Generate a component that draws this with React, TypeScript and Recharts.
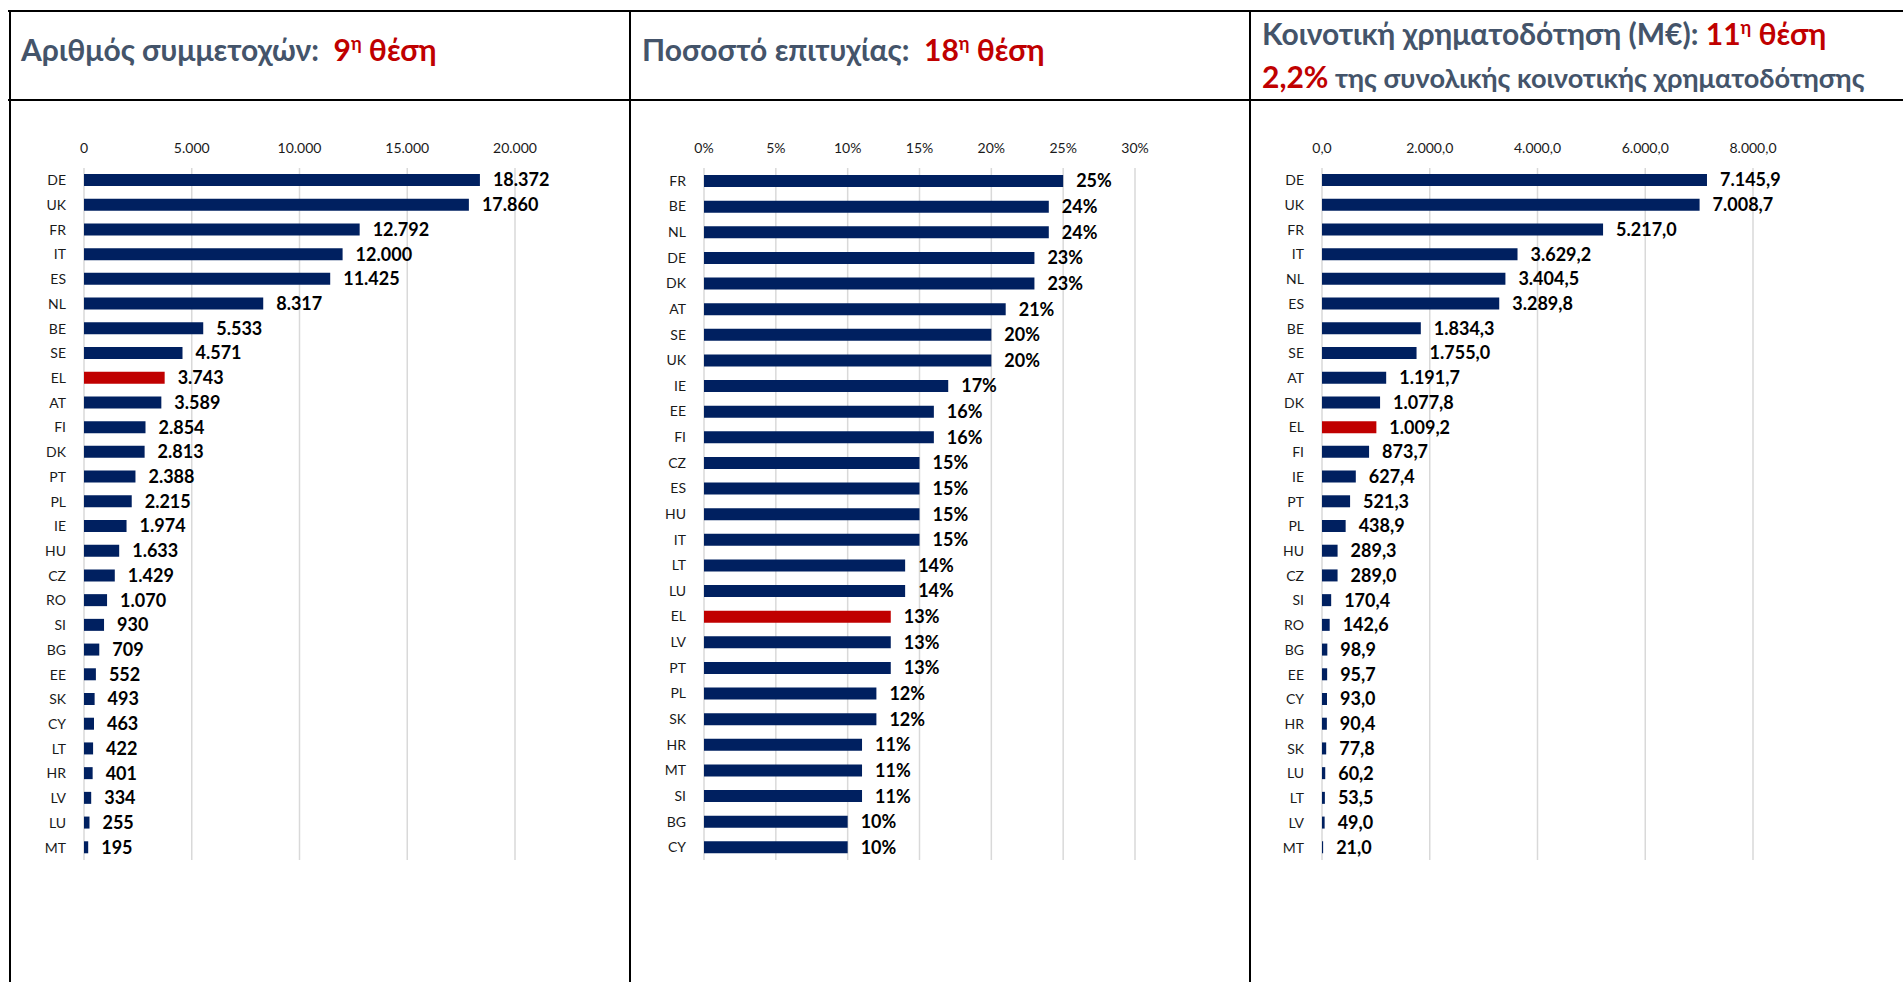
import React from "react";
import { BarChart, Bar, XAxis, YAxis, CartesianGrid, Cell, LabelList } from "recharts";

const FONT = "Lato, 'Open Sans', sans-serif";
const NAVY = "#002060";
const RED = "#c00000";
const SLATE = "#44546a";
const GRID = "#d9d9d9";
const HIGHLIGHT = "EL";

// participations (count)
const partCountries = [
  "DE", "UK", "FR", "IT", "ES", "NL", "BE", "SE", "EL", "AT", "FI", "DK", "PT", "PL",
  "IE", "HU", "CZ", "RO", "SI", "BG", "EE", "SK", "CY", "LT", "HR", "LV", "LU", "MT",
];
const partValues = [
  18372, 17860, 12792, 12000, 11425, 8317, 5533, 4571, 3743, 3589, 2854, 2813, 2388, 2215,
  1974, 1633, 1429, 1070, 930, 709, 552, 493, 463, 422, 401, 334, 255, 195,
];
const partTicks = [0, 5000, 10000, 15000, 20000];

// success rate (%)
const rateCountries = [
  "FR", "BE", "NL", "DE", "DK", "AT", "SE", "UK", "IE", "EE", "FI", "CZ", "ES", "HU",
  "IT", "LT", "LU", "EL", "LV", "PT", "PL", "SK", "HR", "MT", "SI", "BG", "CY",
];
const rateValues = [
  25, 24, 24, 23, 23, 21, 20, 20, 17, 16, 16, 15, 15, 15,
  15, 14, 14, 13, 13, 13, 12, 12, 11, 11, 11, 10, 10,
];
const rateTicks = [0, 5, 10, 15, 20, 25, 30];

// EU funding (M€)
const fundCountries = [
  "DE", "UK", "FR", "IT", "NL", "ES", "BE", "SE", "AT", "DK", "EL", "FI", "IE", "PT",
  "PL", "HU", "CZ", "SI", "RO", "BG", "EE", "CY", "HR", "SK", "LU", "LT", "LV", "MT",
];
const fundValues = [
  7145.9, 7008.7, 5217.0, 3629.2, 3404.5, 3289.8, 1834.3, 1755.0, 1191.7, 1077.8, 1009.2, 873.7, 627.4, 521.3,
  438.9, 289.3, 289.0, 170.4, 142.6, 98.9, 95.7, 93.0, 90.4, 77.8, 60.2, 53.5, 49.0, 21.0,
];
const fundTicks = [0, 2000, 4000, 6000, 8000];

function fmt(v: number, decimals: number) {
  const [int, dec] = Number(v).toFixed(decimals).split(".");
  const grouped = int.replace(/\B(?=(\d{3})+(?!\d))/g, ".");
  return dec ? `${grouped},${dec}` : grouped;
}

const fmtInt = (v: any) => fmt(v, 0);
const fmtPct = (v: any) => `${v}%`;
const fmtOne = (v: any) => fmt(v, 1);

const AXIS_W = 70;
const PLOT_W = 431;
const CHART_W = AXIS_W + PLOT_W + 80;
const CHART_H = 48 + 692 + 10;

interface PanelProps {
  left: number;
  countries: string[];
  values: number[];
  ticks: number[];
  format: (v: any) => string;
}

function Panel({ left, countries, values, ticks, format }: PanelProps) {
  const data = countries.map((name, i) => ({ name, value: values[i] }));
  return (
    <div style={{ position: "absolute", left, top: 120 }}>
      <BarChart
        width={CHART_W}
        height={CHART_H}
        data={data}
        layout="vertical"
        margin={{ top: 0, right: 80, bottom: 10, left: 0 }}
      >
        <CartesianGrid horizontal={false} stroke={GRID} strokeWidth={1.5} />
        <XAxis
          type="number"
          orientation="top"
          domain={[ticks[0], ticks[ticks.length - 1]]}
          ticks={ticks}
          interval={0}
          tickFormatter={format}
          axisLine={false}
          tickLine={false}
          tickSize={0}
          tickMargin={15}
          height={48}
          tick={{ fill: "#1a1a1a", fontSize: 14, fontFamily: FONT }}
        />
        <YAxis
          type="category"
          dataKey="name"
          width={AXIS_W}
          interval={0}
          axisLine={false}
          tickLine={false}
          tickSize={0}
          tickMargin={18}
          tick={{ fill: "#1a1a1a", fontSize: 14, fontFamily: FONT }}
        />
        <Bar dataKey="value" barSize={12} isAnimationActive={false}>
          {data.map((d) => (
            <Cell key={d.name} fill={d.name === HIGHLIGHT ? RED : NAVY} />
          ))}
          <LabelList
            dataKey="value"
            position="right"
            offset={13}
            formatter={format}
            fill="#000"
            fontSize={18}
            fontWeight={700}
            fontFamily={FONT}
          />
        </Bar>
      </BarChart>
    </div>
  );
}

function Frame() {
  const lines = [
    { x: 8, y: 10, w: 1895, h: 2 },
    { x: 8, y: 99, w: 1895, h: 2 },
    { x: 9, y: 10, w: 2, h: 972 },
    { x: 629, y: 10, w: 2, h: 972 },
    { x: 1249, y: 10, w: 2, h: 972 },
  ];
  const t = { fontFamily: FONT, fontWeight: 700, whiteSpace: "pre" as const };
  return (
    <svg width={1903} height={982} style={{ position: "absolute", left: 0, top: 0 }}>
      {lines.map((l, i) => (
        <rect key={i} x={l.x} y={l.y} width={l.w} height={l.h} fill="#000" />
      ))}
      <text x={21} y={61} fontSize={30} style={t}>
        <tspan fill={SLATE}>Αριθμός συμμετοχών:  </tspan>
        <tspan fill={RED}>9</tspan>
        <tspan fill={RED} fontSize={18} dy={-11}>η</tspan>
        <tspan fill={RED} dy={11}> θέση</tspan>
      </text>
      <text x={642} y={61} fontSize={30} style={t}>
        <tspan fill={SLATE}>Ποσοστό επιτυχίας:  </tspan>
        <tspan fill={RED}>18</tspan>
        <tspan fill={RED} fontSize={18} dy={-11}>η</tspan>
        <tspan fill={RED} dy={11}> θέση</tspan>
      </text>
      <text x={1262} y={45} fontSize={30} style={t}>
        <tspan fill={SLATE}>Κοινοτική χρηματοδότηση (Μ€): </tspan>
        <tspan fill={RED}>11</tspan>
        <tspan fill={RED} fontSize={18} dy={-11}>η</tspan>
        <tspan fill={RED} dy={11}> θέση</tspan>
      </text>
      <text x={1262} y={88} fontSize={27.2} style={t}>
        <tspan fill={RED} fontSize={30}>2,2%</tspan>
        <tspan fill={SLATE}> της συνολικής κοινοτικής χρηματοδότησης</tspan>
      </text>
    </svg>
  );
}

export default function App() {
  return (
    <div
      style={{
        position: "absolute",
        left: 0,
        top: 0,
        width: 1903,
        height: 982,
        overflow: "hidden",
        background: "#fff",
      }}
    >
      <Frame />
      <Panel left={14} countries={partCountries} values={partValues} ticks={partTicks} format={fmtInt} />
      <Panel left={634} countries={rateCountries} values={rateValues} ticks={rateTicks} format={fmtPct} />
      <Panel left={1252} countries={fundCountries} values={fundValues} ticks={fundTicks} format={fmtOne} />
    </div>
  );
}
